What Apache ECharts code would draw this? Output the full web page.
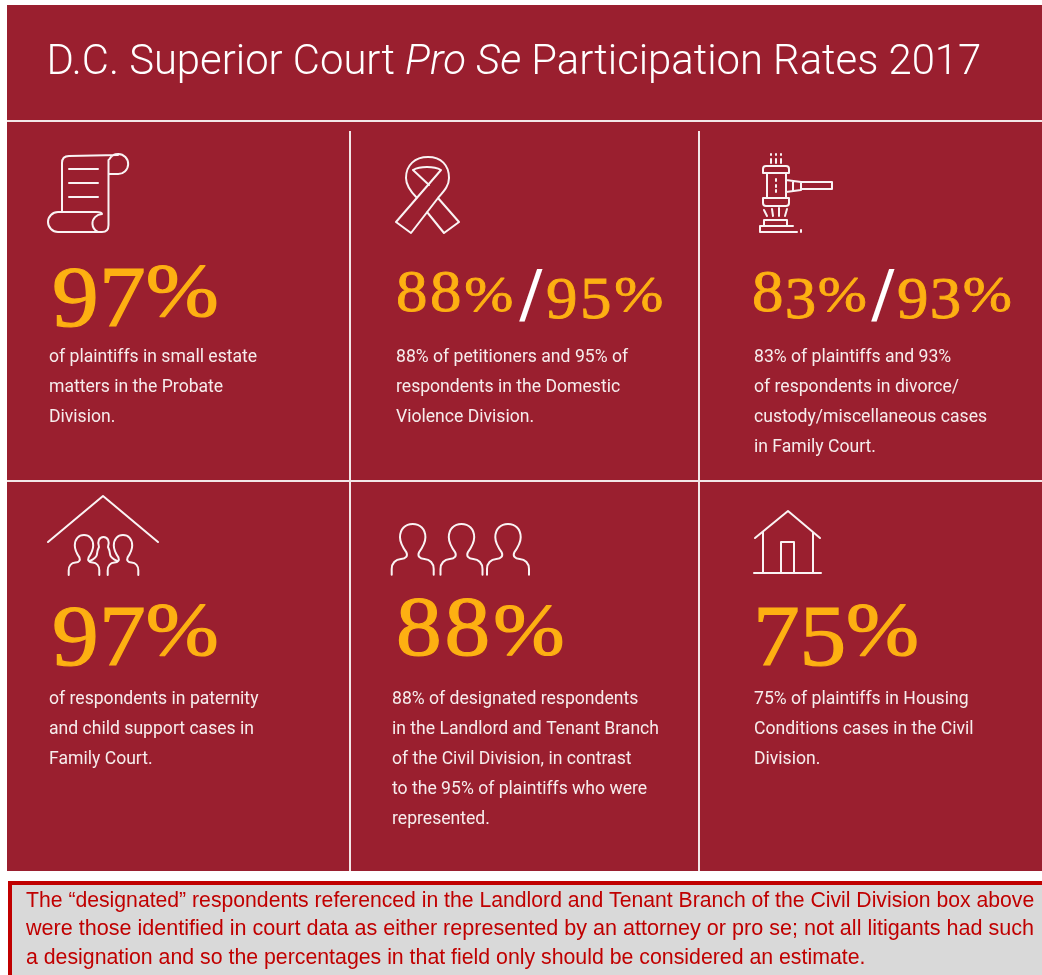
<!DOCTYPE html>
<html><head><meta charset="utf-8">
<style>html,body{margin:0;padding:0;background:#fff}#c{width:1042px;height:975px}</style>
<script src="https://cdn.jsdelivr.net/npm/echarts@6/dist/echarts.min.js"></script>
</head><body><div id="c"></div>
<script>
const titleParts = ['D.C. Superior Court ', 'Pro Se', ' Participation Rates 2017'];
const statFirst = ['97%', '88%', '83%', '97%', '88%', '75%'];
const statSecond = [null, '95%', '93%', null, null, null];
const captions = [
  'of plaintiffs in small estate\nmatters in the Probate\nDivision.',
  '88% of petitioners and 95% of\nrespondents in the Domestic\nViolence Division.',
  '83% of plaintiffs and 93%\nof respondents in divorce/\ncustody/miscellaneous cases\nin Family Court.',
  'of respondents in paternity\nand child support cases in\nFamily Court.',
  '88% of designated respondents\nin the Landlord and Tenant Branch\nof the Civil Division, in contrast\nto the 95% of plaintiffs who were\nrepresented.',
  '75% of plaintiffs in Housing\nConditions cases in the Civil\nDivision.'
];
const footnote = [
  'The “designated” respondents referenced in the Landlord and Tenant Branch of the Civil Division box above',
  'were those identified in court data as either represented by an attorney or pro se; not all litigants had such',
  'a designation and so the percentages in that field only should be considered an estimate.'
];

const RED = '#9A1F2F', GOLD = '#FDB012', WHITE = '#FFFFFF', LINE = '#F3E6E7';
const g = [];
const rect = (x, y, w, h, fill) => g.push({type:'rect', silent:true, shape:{x,y,width:w,height:h}, style:{fill}});
let iconCount = 0;
const icon = (d, lw) => {
  const name = 'iconShape' + (iconCount++);
  echarts.graphic.registerShape(name, echarts.graphic.extendPath(d, {}));
  g.push({type:name, silent:true, style:{fill:'none', stroke:WHITE, lineWidth:lw||2, lineCap:'round', lineJoin:'round', opacity:.95}});
};

// panels
rect(0,0,1042,975,'#FFFFFF');
rect(7,5,1035,866,RED);
rect(7,120,1035,2,LINE);
rect(7,480,1035,2,LINE);
rect(349,131,2,740,LINE);
rect(698,131,2,740,LINE);

// title
const tf = 'Roboto';
g.push({type:'text', silent:true, x:46.5, y:64, style:{
  text:'{a|'+titleParts[0]+'}{b|'+titleParts[1]+'}{a|'+titleParts[2]+'}',
  verticalAlign:'middle', fill:WHITE,
  rich:{
    a:{fontFamily:tf, fontSize:41.8, fontWeight:300, fill:WHITE},
    b:{fontFamily:tf, fontSize:41.8, fontWeight:300, fontStyle:'italic', fill:WHITE}
  }}});

// big numbers: old-style figures drop below the baseline
const drop = {'3':.11,'4':.11,'5':.11,'7':.11,'9':.11};
function bigText(s, x, base, size, adv) {
  for (const ch of s) {
    const pct = ch === '%';
    const fs = size * (pct ? .82 : .94);
    const d = (drop[ch]||0)*size;
    g.push({type:'text', silent:true, x, y: base + d - .3*fs, scaleX: pct ? 1.16 : 1.08, style:{
      text:ch, fill:GOLD, stroke:GOLD, lineWidth:size/75, fontFamily:'Liberation Serif', fontSize:fs, verticalAlign:'middle'}});
    x += pct ? .84*size : adv*size;
  }
  return x;
}
const statLayout = [
  {x:52, base:319, size:92, adv:.51},
  {x:396, base:313, size:62, adv:.55, x2:546, slash:520},
  {x:752, base:313, size:62, adv:.53, x2:897, slash:872},
  {x:52, base:658, size:92, adv:.51},
  {x:396, base:658, size:90, adv:.54},
  {x:753, base:658, size:92, adv:.505}
];
statFirst.forEach((s,i)=>{
  const L = statLayout[i];
  bigText(s, L.x, L.base, L.size, L.adv);
  if (statSecond[i]) {
    g.push({type:'text', silent:true, x:L.slash, y:L.base - 13, style:{
      text:'/', fill:WHITE, fontFamily:'Liberation Serif', fontSize:78, fontWeight:'bold', verticalAlign:'middle'}});
    bigText(statSecond[i], L.x2, L.base, L.size, L.adv);
  }
});

// captions
const capPos = [[49,343],[396,343],[754,343],[49,685],[392,685],[754,685]];
captions.forEach((c,i)=>{
  g.push({type:'text', silent:true, x:capPos[i][0], y:capPos[i][1], style:{
    text:c, fill:'#F6ECEC', fontFamily:'Roboto', fontSize:17.6, lineHeight:30, verticalAlign:'top'}});
});

// icons
icon('M62,212 L62,163 Q62,156 69,156 L118,155 M108.5,160 L108.5,225 Q108.5,232 102,232 L58,232 A10,10 0 0 1 58,212 L96,212 Q102,212 102,214 A10,9.5 0 0 0 98,232 M118,174 L109,174 M118,174 A10,10 0 1 0 109.5,159 M69,169 L98,169 M69,183 L98,183 M69,197 L98,197');
icon('M396,222 L441,170 M411,233 L396,222 M411,233 L438,198 C444,191 449,186 449,178 C449,165 441,157 428,157 C415,157 406,165 406,178 C406,186 411,192 417,198 M444,233 L459,222 M444,233 L427,212 M459,222 L438,198 M413,170 L429,185 M413,170 C420,166 434,166 441,170');
icon('M763,169 Q763,166 766,166 L786,166 Q789,166 789,169 L789,173 L763,173 Z M767,173 L767,198 M786,173 L786,198 M763,198 L789,198 L789,203 Q789,206 786,206 L766,206 Q763,206 763,203 Z M786,180 L801,182 L801,190 L786,192 M793,181 L793,191 M801,182 L832,182 L832,189 L801,189 M776,179 L776,181 M776,185 L776,187 M776,190 L776,192 M771,154 L771,155 M776,154 L776,155 M781,154 L781,155 M771,159 L771,163 M776,159 L776,163 M781,159 L781,163 M764,210 L767,216 M772,209 L773,216 M779,208 L779,216 M787,209 L785,216 M764,220 L787,220 L787,226 M764,220 L764,226 M760,226 L793,226 M760,226 L760,232 L797,232 M801,230 L801,232');
icon('M48,542 L103,496 L158,542');
function person(cx, top, sx, sy) {
  const P = (dx,dy)=>(cx+dx*sx/3).toFixed(1)+','+(top+dy*sy/3).toFixed(1);
  return 'M'+P(-63,152)+' L'+P(-63,135)+' C'+P(-63,118)+' '+P(-52,106)+' '+P(-35,105)+
    ' C'+P(-20,104)+' '+P(-14,96)+' '+P(-19,85)+' C'+P(-30,70)+' '+P(-38,55)+' '+P(-38,40)+
    ' C'+P(-38,15)+' '+P(-22,0)+' '+P(0,0)+' C'+P(22,0)+' '+P(38,15)+' '+P(38,40)+
    ' C'+P(38,55)+' '+P(30,70)+' '+P(19,85)+' C'+P(14,96)+' '+P(20,104)+' '+P(35,105)+
    ' C'+P(52,106)+' '+P(63,118)+' '+P(63,135)+' L'+P(63,152);
}
icon(person(84,535,.73,.79));
icon(person(123,535,.73,.79));
icon('M90,561 C94,559 97,557 97,554 C97,551 98,549 99,547 C97,542 99,537 103.5,537 C108,537 110,542 108,547 C109,549 110,551 110,554 C110,557 113,559 117,561');
icon(person(412.7,524,1,1));
icon(person(461.5,524,1,1));
icon(person(508,524,1,1));
icon('M755,538 L788,511 L820,538 M763,532 L763,573 M813,532 L813,573 M754,573 L821,573 M781,573 L781,542 L794,542 L794,573');

// footnote
rect(8,881,1034,94,'#C00000');
rect(12,885,1030,90,'#D9D9D9');
const footSize = [21.2, 21.57, 21.3];
[908,936,965].forEach((b,i)=>{
  g.push({type:'text', silent:true, x:26, y:b-7, style:{
    text:footnote[i], fill:'#C00000', fontFamily:'Liberation Sans', fontSize:footSize[i], verticalAlign:'middle'}});
});

const chart = echarts.init(document.getElementById('c'), null, {renderer:'canvas', width:1042, height:975});
chart.setOption({animation:false, backgroundColor:'#FFFFFF', graphic:{elements:g}});
</script></body></html>
